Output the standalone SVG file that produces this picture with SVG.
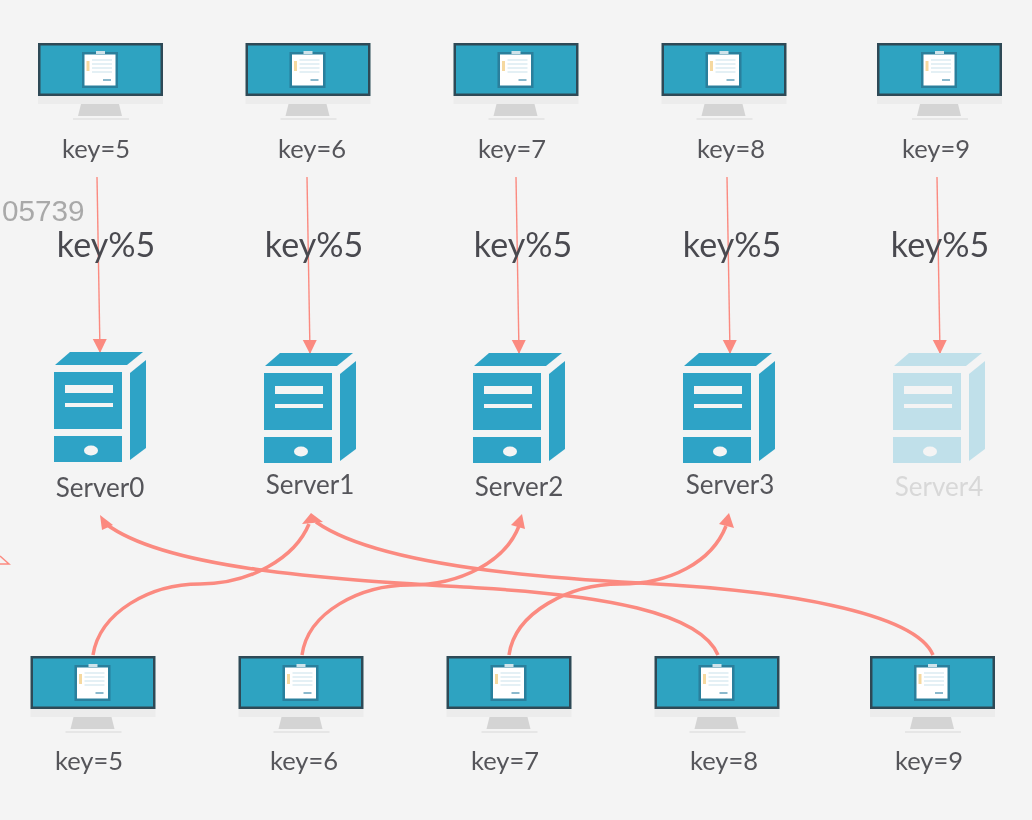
<svg xmlns="http://www.w3.org/2000/svg" width="1032" height="820" viewBox="0 0 1032 820">
<style>
.k{font-family:Lato,"Open Sans",sans-serif;font-size:25.500px;fill:#55555a;text-anchor:middle}
.m{font-family:Lato,"Open Sans",sans-serif;font-size:34px;fill:#4a4a50;text-anchor:middle}
.s{font-family:Lato,"Open Sans",sans-serif;font-size:26px;fill:#55555a;text-anchor:middle}
.t{stroke:#fb8a80;stroke-width:1.400;fill:none;marker-end:url(#a)}
.c{stroke:#fb8a80;stroke-width:3.500;fill:none}
.h{fill:#fb8a80}
</style>
<defs>
<marker id="a" markerUnits="userSpaceOnUse" markerWidth="16" markerHeight="16" refX="13" refY="7" orient="auto"><path d="M0 0L14 7L0 14Z" fill="#fb8a80"/></marker>
<filter id="b" filterUnits="userSpaceOnUse" x="0" y="0" width="1032" height="820"><feGaussianBlur stdDeviation="0.600"/></filter>
<g id="mon">
<rect x="0" y="0" width="125" height="53" fill="#2f4a56"/>
<rect x="2.500" y="2.500" width="120" height="48" fill="#2fa3c1"/>
<rect x="0" y="53" width="125" height="8" fill="#ececec"/>
<path d="M43 61H81L84 73H40Z" fill="#d4d4d4"/>
<rect x="35" y="75" width="56" height="2" fill="#e6e6e6"/>
<rect x="44" y="9" width="36" height="36" fill="#2a7f9c"/>
<rect x="46.500" y="11.500" width="31" height="31" fill="#fff"/>
<rect x="58" y="8" width="9" height="3" fill="#cfe3ea"/>
<path d="M48.500 18h3v10h-3z" fill="#f6d9a0"/>
<path d="M54 17h20M54 21h20M54 25h20M54 29h20" stroke="#dcecf2" stroke-width="1.300"/>
<path d="M65 37h8" stroke="#8bb9cd" stroke-width="2"/>
</g>
<g id="srv">
<path d="M55 365L70 352H143L127 365Z"/>
<path d="M130 373L146 360V448L130 460Z"/>
<path fill-rule="evenodd" d="M54 372H122V429H54ZM65 385V393H113V385ZM65 403V407H113V403Z"/>
<path fill-rule="evenodd" d="M54 436H122V462H54ZM98 450.500A7 5 0 1 0 84 450.500A7 5 0 1 0 98 450.500Z"/>
</g>
</defs>
<rect width="1032" height="820" fill="#f4f4f4"/>
<g filter="url(#b)">
<g id="connectors">
<path class="t" d="M97 177L100 352"/>
<path class="t" d="M307 177L310 353"/>
<path class="t" d="M516 177L519 353"/>
<path class="t" d="M727 177L730 353"/>
<path class="t" d="M937 177L940 353"/>
<path class="c" d="M93 655C100 612 150 584 200 584C250 584 295 558 309 524"/>
<path class="c" d="M302 655C308 612 360 585 410 585C460 585 505 562 519 526"/>
<path class="c" d="M509 655C515 612 570 584 620 584C670 584 712 562 726 526"/>
<path class="c" d="M718 655C700 612 600 595 480 588C350 580 170 572 106 524"/>
<path class="c" d="M933 655C915 612 780 590 640 583C500 576 370 560 316 522"/>
<path class="h" d="M100 515L113 525L102 530Z"/>
<path class="h" d="M311 513L323 522L302 524Z"/>
<path class="h" d="M522 514L525 529L511 525Z"/>
<path class="h" d="M729 513L734 528L719 524Z"/>
<path d="M0 556L9 564H0" fill="none" stroke="#fb8a80" stroke-width="1.500"/>
</g>
<text x="2" y="221" font-family="Liberation Sans,sans-serif" font-size="29.700" fill="#a9a9a9">05739</text>
<g id="client-top-0"><use href="#mon" x="38" y="43"/><text class="k" x="96" y="158">key=5</text></g>
<g id="client-top-1"><use href="#mon" x="245.500" y="43"/><text class="k" x="312" y="158">key=6</text></g>
<g id="client-top-2"><use href="#mon" x="453.500" y="43"/><text class="k" x="512" y="158">key=7</text></g>
<g id="client-top-3"><use href="#mon" x="661.500" y="43"/><text class="k" x="731" y="158">key=8</text></g>
<g id="client-top-4"><use href="#mon" x="877" y="43"/><text class="k" x="936" y="158">key=9</text></g>
<g id="hash-0"><text class="m" x="106" y="257">key%5</text></g>
<g id="hash-1"><text class="m" x="314" y="257">key%5</text></g>
<g id="hash-2"><text class="m" x="523" y="257">key%5</text></g>
<g id="hash-3"><text class="m" x="732" y="257">key%5</text></g>
<g id="hash-4"><text class="m" x="940" y="257">key%5</text></g>
<g id="server-0"><use href="#srv" fill="#2fa3c6"/><text class="s" x="100" y="497">Server0</text></g>
<g id="server-1"><use href="#srv" x="210" y="1" fill="#2fa3c6"/><text class="s" x="310" y="494">Server1</text></g>
<g id="server-2"><use href="#srv" x="419" y="1" fill="#2fa3c6"/><text class="s" x="519" y="496">Server2</text></g>
<g id="server-3"><use href="#srv" x="629" y="1" fill="#2fa3c6"/><text class="s" x="730" y="494">Server3</text></g>
<g id="server-4"><use href="#srv" x="839" y="1" fill="#c0e0ea"/><text class="s" x="939" y="496" style="fill:#d8d8d8">Server4</text></g>
<g id="client-bottom-0"><use href="#mon" x="30.500" y="656"/><text class="k" x="89" y="770">key=5</text></g>
<g id="client-bottom-1"><use href="#mon" x="238.500" y="656"/><text class="k" x="304" y="770">key=6</text></g>
<g id="client-bottom-2"><use href="#mon" x="446.500" y="656"/><text class="k" x="505" y="770">key=7</text></g>
<g id="client-bottom-3"><use href="#mon" x="654.500" y="656"/><text class="k" x="724" y="770">key=8</text></g>
<g id="client-bottom-4"><use href="#mon" x="870" y="656"/><text class="k" x="929" y="770">key=9</text></g>
</g>
</svg>
